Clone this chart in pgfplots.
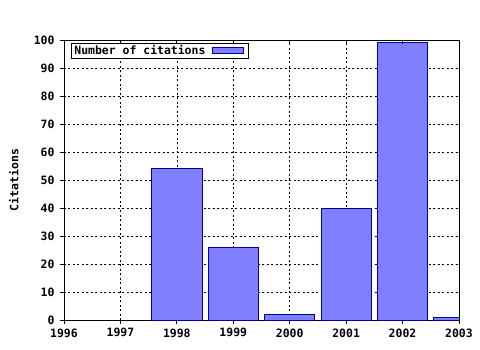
\documentclass[border=0pt]{standalone}
\usepackage{fontspec}
\setmainfont{DejaVu Sans Mono}[BoldFont={DejaVu Sans Mono Bold}]
\usepackage{pgfplots}
\pgfplotsset{compat=1.18}
\definecolor{barfill}{RGB}{128,128,255}
\definecolor{baredge}{RGB}{0,0,160}
\begin{document}
\begin{tikzpicture}
\pgfplotsset{
  common/.style={
    scale only axis, width=395bp, height=280bp,
    xmin=1996, xmax=2003, ymin=0, ymax=100,
    xtick={1996,...,2003}, minor x tick num=3,
    ytick={0,10,...,100},
    major tick length=4bp, minor tick length=2bp,
    /pgf/number format/assume math mode=true,
    /pgf/number format/1000 sep={},
    tick label style={font=\fontsize{11.5}{12}\selectfont\bfseries},
    every tick/.style={black, line width=0.8pt},
    every minor tick/.style={black, line width=0.6pt},
  }
}
\begin{axis}[common,
  at={(0,0)}, anchor=south west,
  xtick pos=left, ytick pos=left, tick align=outside,
  axis line style={black, line width=0.8pt},
  xmajorgrids, ymajorgrids,
  grid style={black, line width=0.6pt, dash pattern=on 2bp off 2.5bp},
  xticklabel style={yshift=-1bp},
  yticklabel style={xshift=-2bp},
  ylabel={Citations},
  ylabel style={font=\fontsize{11.5}{12}\selectfont\bfseries, at={(axis description cs:-0.127,0.5)}, anchor=center},
  legend style={at={(axis description cs:0.0177,0.989)}, anchor=north west,
    draw=black, line width=0.8pt, inner xsep=1bp, inner ysep=0bp,
    font=\fontsize{11.5}{12}\selectfont\bfseries, cells={anchor=west}},
  legend plot pos=right,
  ybar, bar width=0.89,
]
\addplot[fill=barfill, draw=baredge, line width=0.8pt,
  legend image code/.code={\path[draw=none, fill=none] (0bp,0bp) -- (40bp,0bp);\draw[fill=barfill, draw=baredge, line width=0.8pt] (5bp,-3bp) rectangle (36bp,3bp);}] coordinates {
  (1998,54) (1999,26) (2000,2) (2001,40) (2002,99) (2003,1)
};
\addlegendentry{Number of citations}
\end{axis}
\begin{axis}[common,
  at={(0,0)}, anchor=south west,
  axis x line*=top, axis y line=none,
  tick align=inside, xticklabels={}, ytick=\empty,
  axis line style={black, line width=0.8pt},
]
\addplot[draw=none] coordinates {(1996,0)};
\end{axis}
\useasboundingbox (-64bp,-30bp) rectangle (416bp,320bp);
\end{tikzpicture}
\end{document}
